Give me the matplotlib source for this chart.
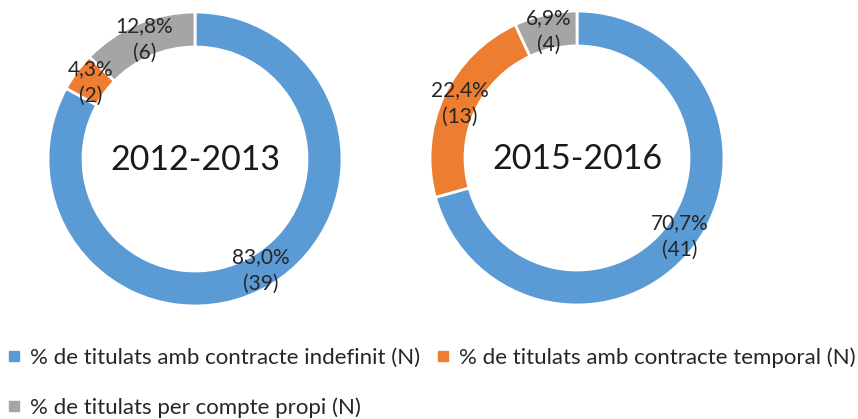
import matplotlib.pyplot as plt
from matplotlib.lines import Line2D

plt.rcParams['font.family'] = ['Lato', 'DejaVu Sans']

# Data
categories = ['% de titulats amb contracte indefinit (N)',
              '% de titulats amb contracte temporal (N)',
              '% de titulats per compte propi (N)']
colors = ['#5B9BD5', '#ED7D31', '#A5A5A5']
periods = ['2012-2013', '2015-2016']
counts_2012 = [39, 2, 6]
counts_2015 = [41, 13, 4]

W, H = 858, 419
fig = plt.figure(figsize=(W / 100, H / 100), dpi=100)
ax = fig.add_axes([0, 0, 1, 1])

R = 147
ring = 35


def make_fmt(counts):
    total = sum(counts)

    def fmt(pct):
        n = int(round(pct * total / 100))
        return f'{pct:.1f}%'.replace('.', ',') + f'\n({n})'
    return fmt


centers = [(195, H - 159), (577, H - 158)]
for counts, period, c in zip([counts_2012, counts_2015], periods, centers):
    ax.pie(counts, colors=colors, startangle=90, counterclock=False,
           radius=R, center=c, frame=True,
           wedgeprops=dict(width=ring, edgecolor='white', linewidth=2),
           autopct=make_fmt(counts), pctdistance=(R - ring / 2) / R,
           textprops=dict(fontsize=15, color='#262626', linespacing=1.4))
    ax.text(c[0], c[1] - 1, period, ha='center', va='center',
            fontsize=24.5, color='#1a1a1a')

ax.set_xlim(0, W)
ax.set_ylim(0, H)
ax.set_aspect('equal')
ax.axis('off')

handles = [Line2D([], [], marker='s', linestyle='none', markersize=7,
                  color=col) for col in colors]
order = [0, 2, 1]
fig.legend([handles[i] for i in order], [categories[i] for i in order],
           loc='upper left', bbox_to_anchor=(4 / W, 1 - 343 / H), ncol=2,
           frameon=False, fontsize=16, handlelength=0.5, handletextpad=0.45,
           columnspacing=0.8, labelspacing=1.3, borderaxespad=0,
           borderpad=0.2, labelcolor='#262626')

fig.savefig('out.png', dpi=100)
